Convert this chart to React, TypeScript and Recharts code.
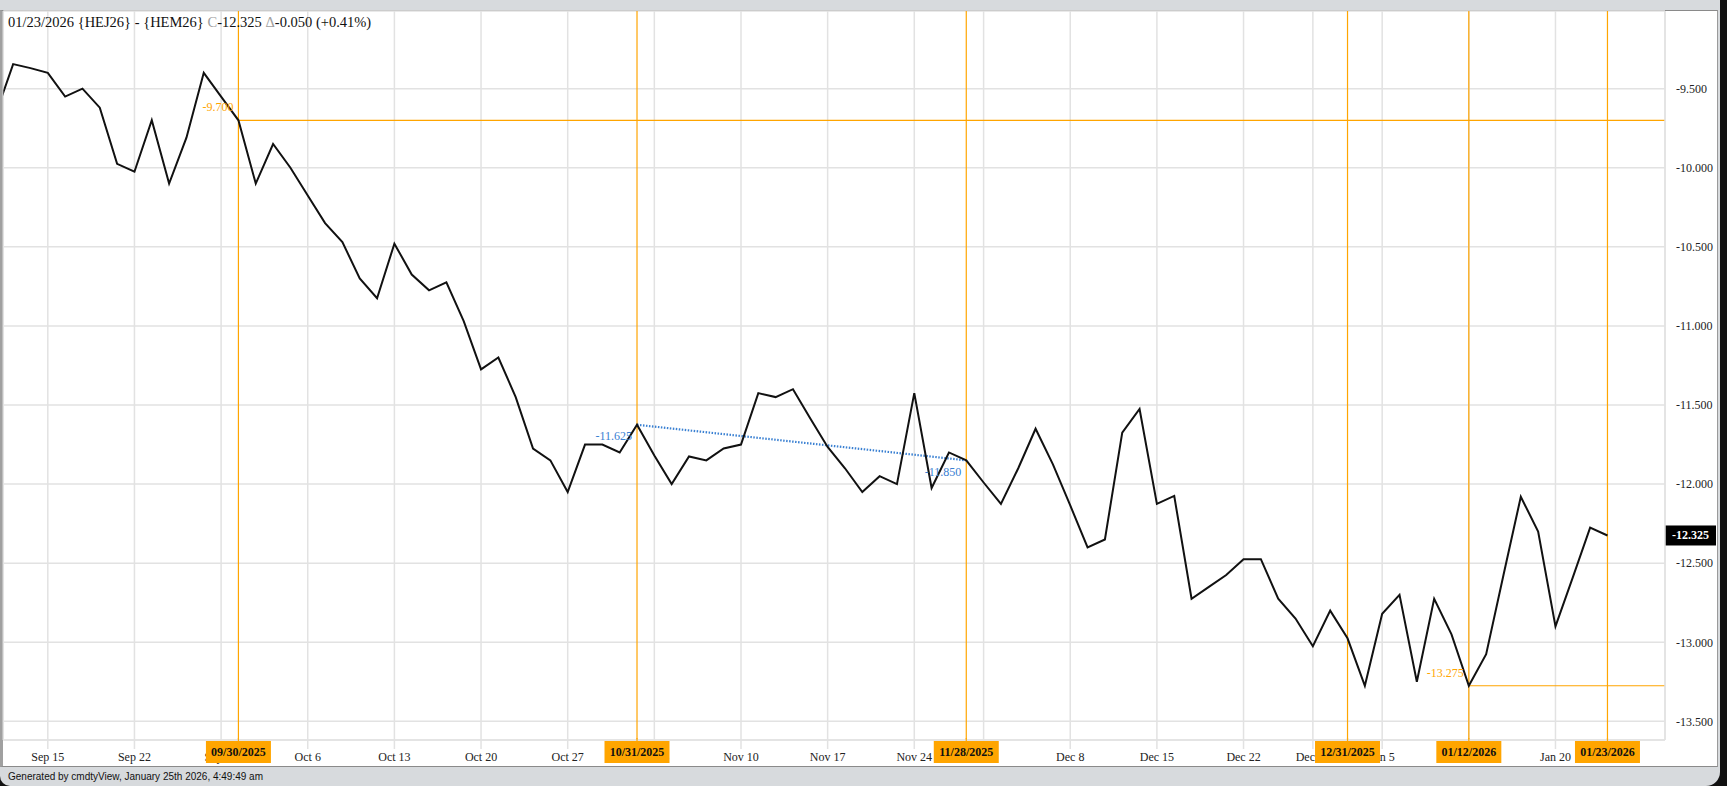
import React from 'react'
import { LineChart, Line, XAxis, YAxis, CartesianGrid, ReferenceLine, ReferenceDot } from 'recharts'

// trading days, Sep 10 2025 .. Jan 23 2026 (holidays skipped)
const dates = [
  '09/10', '09/11', '09/12', '09/15', '09/16', '09/17', '09/18', '09/19', '09/22', '09/23',
  '09/24', '09/25', '09/26', '09/29', '09/30', '10/01', '10/02', '10/03', '10/06', '10/07',
  '10/08', '10/09', '10/10', '10/13', '10/14', '10/15', '10/16', '10/17', '10/20', '10/21',
  '10/22', '10/23', '10/24', '10/27', '10/28', '10/29', '10/30', '10/31', '11/03', '11/04',
  '11/05', '11/06', '11/07', '11/10', '11/11', '11/12', '11/13', '11/14', '11/17', '11/18',
  '11/19', '11/20', '11/21', '11/24', '11/25', '11/26', '11/28', '12/01', '12/02', '12/03',
  '12/04', '12/05', '12/08', '12/09', '12/10', '12/11', '12/12', '12/15', '12/16', '12/17',
  '12/18', '12/19', '12/22', '12/23', '12/24', '12/26', '12/29', '12/30', '12/31', '01/02',
  '01/05', '01/06', '01/07', '01/08', '01/09', '01/12', '01/13', '01/14', '01/15', '01/16',
  '01/20', '01/21', '01/22', '01/23',
]

// HEJ26 - HEM26 spread close
const spread = [
  -9.66, -9.345, -9.37, -9.4, -9.55, -9.5, -9.62, -9.975, -10.025, -9.7,
  -10.1, -9.81, -9.4, -9.55, -9.7, -10.1, -9.85, -10.0, -10.175, -10.35,
  -10.47, -10.7, -10.825, -10.48, -10.675, -10.775, -10.725, -10.97, -11.275, -11.2,
  -11.45, -11.775, -11.85, -12.05, -11.75, -11.75, -11.8, -11.625, -11.82, -12.0,
  -11.825, -11.85, -11.775, -11.75, -11.425, -11.45, -11.4, -11.585, -11.765, -11.9,
  -12.05, -11.95, -12.0, -11.425, -12.025, -11.8, -11.85, -11.99, -12.125, -11.9,
  -11.65, -11.875, -12.135, -12.4, -12.35, -11.675, -11.525, -12.125, -12.075, -12.725,
  -12.65, -12.575, -12.475, -12.475, -12.725, -12.85, -13.025, -12.8, -12.975, -13.275,
  -12.82, -12.7, -13.25, -12.725, -12.95, -13.275, -13.075, -12.575, -12.08, -12.3,
  -12.9, -12.59, -12.275, -12.325,
]

const weekDates = ['09/15', '09/22', '09/29', '10/06', '10/13', '10/20', '10/27', '11/03', '11/10', '11/17',
  '11/24', '12/01', '12/08', '12/15', '12/22', '12/29', '01/05', '01/12', '01/20']
const weekLabels = ['Sep 15', 'Sep 22', 'Sep 29', 'Oct 6', 'Oct 13', 'Oct 20', 'Oct 27', 'Nov 3', 'Nov 10', 'Nov 17',
  'Nov 24', 'Dec 1', 'Dec 8', 'Dec 15', 'Dec 22', 'Dec 29', 'Jan 5', 'Jan 12', 'Jan 20']

const yTicks = [-9.5, -10, -10.5, -11, -11.5, -12, -12.5, -13, -13.5]

const markDates = ['09/30', '10/31', '11/28', '12/31', '01/12', '01/23']
const markLabels = ['09/30/2025', '10/31/2025', '11/28/2025', '12/31/2025', '01/12/2026', '01/23/2026']

const lastValue = -12.325
const highMark = { date: '09/30', value: -9.7 }
const lowMark = { date: '01/12', value: -13.275 }
const trendStart = { date: '10/31', value: -11.625 }
const trendEnd = { date: '11/28', value: -11.85 }

const X_DOMAIN = [0.432, 96.32]
const Y_DOMAIN = [-13.618, -9.009]

const ORANGE = '#ffa500'
const BLUE = '#3a80d2'
const GRID = '#e2e2e2'
const SERIF = 'Liberation Serif, Times New Roman, serif'

const idx = (d: string) => dates.indexOf(d)
const data = dates.map((d, i) => ({ i, date: d, value: spread[i] }))

const priceTag = (p: any) => {
  const vb = p.viewBox || {}
  const right = vb.x + vb.width
  return (
    <g>
      <rect x={right} y={vb.y - 10} width={51} height={20} fill="#000" />
      <text x={right + 25.5} y={vb.y} textAnchor="middle" dominantBaseline="central"
        fontFamily={SERIF} fontSize={12} fontWeight="bold" fill="#fff">{lastValue.toFixed(3)}</text>
    </g>
  )
}

const pointLabel = (text: string, color: string, dy: number) => (p: any) => (
  <text x={p.cx - 5} y={p.cy + dy} textAnchor="end" dominantBaseline="central"
    fontFamily={SERIF} fontSize={12} fill={color}>{text}</text>
)

const WeekTick = (p: any) => {
  const k = weekDates.map(idx).indexOf(p.payload.value)
  return (
    <text x={p.x} y={761} textAnchor="middle" fontFamily={SERIF} fontSize={12} fill="#222">
      {weekLabels[k]}
    </text>
  )
}

// orange date boxes, drawn by a second axis so they sit over the week labels
const MarkTick = (p: any) => {
  const k = markDates.map(idx).indexOf(p.payload.value)
  return (
    <g>
      <line x1={p.x} x2={p.x} y1={738} y2={742} stroke={ORANGE} strokeWidth={1.2} />
      <rect x={p.x - 32.5} y={741} width={65} height={22} fill={ORANGE} />
      <text x={p.x} y={752} textAnchor="middle" dominantBaseline="central"
        fontFamily={SERIF} fontSize={12} fontWeight="bold" fill="#111">{markLabels[k]}</text>
    </g>
  )
}

export default function App() {
  return (
    <div style={{ position: 'absolute', left: 0, top: 0, width: 1727, height: 786, background: '#111', overflow: 'hidden' }}>
      <div style={{ position: 'absolute', left: 0, top: 0, width: 1720, height: 786, background: '#d7dadd', borderBottomLeftRadius: 10, borderBottomRightRadius: 14 }} />
      <div style={{ position: 'absolute', left: 0, top: 10, width: 1718, height: 757, boxSizing: 'border-box', background: '#fff', borderTop: '1px solid #8a8a8a', borderBottom: '1px solid #8a8a8a', borderLeft: '3px solid #a0a0a0', borderRight: '1px solid #9a9a9a' }} />
      <div style={{ position: 'absolute', left: 0, top: 0 }}>
        <LineChart width={1727} height={786} data={data} margin={{ top: 11, right: 0, bottom: 0, left: 3.3 }}>
          <CartesianGrid stroke={GRID} strokeWidth={1.5} />
          <XAxis dataKey="i" type="number" domain={X_DOMAIN} allowDataOverflow ticks={weekDates.map(idx)}
            height={45} axisLine={{ stroke: GRID, strokeWidth: 1.5 }} tickLine={{ stroke: GRID, strokeWidth: 1.5 }}
            tickSize={9} tick={<WeekTick />} interval={0} />
          <XAxis xAxisId="marks" dataKey="i" type="number" domain={X_DOMAIN} allowDataOverflow
            ticks={markDates.map(idx)} height={1} axisLine={false} tickLine={false}
            tick={<MarkTick />} interval={0} />
          <YAxis orientation="right" type="number" domain={Y_DOMAIN} allowDataOverflow ticks={yTicks} width={62}
            axisLine={{ stroke: GRID, strokeWidth: 1.5 }} tickLine={false} tickSize={0} tickMargin={11}
            tickFormatter={(v: number) => v.toFixed(3)} interval={0}
            tick={{ fontFamily: SERIF, fontSize: 12, fill: '#222' }} />
          {markDates.map((d) => (
            <ReferenceLine key={d} x={idx(d)} stroke={ORANGE} strokeWidth={1.2} />
          ))}
          <ReferenceLine segment={[{ x: idx(highMark.date), y: highMark.value }, { x: X_DOMAIN[1], y: highMark.value }]}
            stroke={ORANGE} strokeWidth={1.2} />
          <ReferenceLine segment={[{ x: idx(lowMark.date), y: lowMark.value }, { x: X_DOMAIN[1], y: lowMark.value }]}
            stroke={ORANGE} strokeWidth={1.2} />
          <ReferenceLine segment={[{ x: idx(trendStart.date), y: trendStart.value }, { x: idx(trendEnd.date), y: trendEnd.value }]}
            stroke={BLUE} strokeWidth={2.2} strokeDasharray="1.5 1.5" />
          <ReferenceDot x={idx(highMark.date)} y={highMark.value} r={0} shape={pointLabel(highMark.value.toFixed(3), ORANGE, -13)} />
          <ReferenceDot x={idx(lowMark.date)} y={lowMark.value} r={0} shape={pointLabel(lowMark.value.toFixed(3), ORANGE, -13)} />
          <ReferenceDot x={idx(trendStart.date)} y={trendStart.value} r={0} shape={pointLabel(trendStart.value.toFixed(3), BLUE, 11)} />
          <ReferenceDot x={idx(trendEnd.date)} y={trendEnd.value} r={0} shape={pointLabel(trendEnd.value.toFixed(3), BLUE, 11.5)} />
          <Line type="linear" dataKey="value" stroke="#111" strokeWidth={2} dot={false} isAnimationActive={false} />
          <ReferenceLine y={lastValue} stroke="none" label={priceTag} />
        </LineChart>
      </div>
      <div style={{ position: 'absolute', left: 8, top: 13, fontFamily: SERIF, fontSize: 14.5, color: '#111', whiteSpace: 'nowrap', lineHeight: '18px' }}>
        01/23/2026 {'{HEJ26}'} - {'{HEM26}'} <span style={{ color: '#a0a0a0' }}>C</span>-12.325{' '}
        <span style={{ color: '#a0a0a0' }}>Δ</span>-0.050 (+0.41%)
      </div>
      <div style={{ position: 'absolute', left: 8, top: 770, fontFamily: 'Liberation Sans, Arial, sans-serif', fontSize: 10, color: '#111', whiteSpace: 'nowrap', lineHeight: '13px' }}>
        Generated by cmdtyView, January 25th 2026, 4:49:49 am
      </div>
    </div>
  )
}
